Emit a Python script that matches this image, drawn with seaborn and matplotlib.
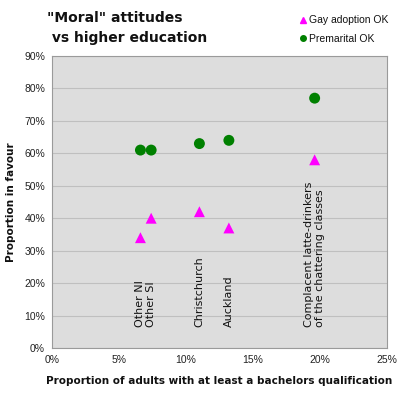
import pandas as pd
import numpy as np
import matplotlib
matplotlib.use("Agg")
import matplotlib.pyplot as plt
import seaborn as sns
from matplotlib.lines import Line2D

regions = ["Other NI", "Other SI", "Christchurch", "Auckland",
           "Complacent latte-drinkers\nof the chattering classes"]
bachelors = [6.6, 7.4, 11.0, 13.2, 19.6]
gay_adoption = [34, 40, 42, 37, 58]
premarital = [61, 61, 63, 64, 77]

df = pd.DataFrame({"region": regions * 2,
                   "bach": bachelors * 2,
                   "val": gay_adoption + premarital,
                   "series": ["Gay adoption OK"] * 5 + ["Premarital OK"] * 5})

sns.set_style("white")
plt.rcParams['font.family'] = ['Liberation Sans', 'DejaVu Sans']
plt.rcParams['text.color'] = "#111111"
plt.rcParams['axes.labelcolor'] = "#111111"
plt.rcParams['xtick.color'] = "#222222"
plt.rcParams['ytick.color'] = "#222222"

fig = plt.figure(figsize=(4, 3.97), dpi=100)
ax = fig.add_axes([0.13, 0.1234, 0.8375, 0.7356])
ax.set_facecolor("#dddddd")

sns.scatterplot(data=df, x="bach", y="val", hue="series", style="series",
                palette={"Gay adoption OK": "#ff00ff", "Premarital OK": "#008000"},
                markers={"Gay adoption OK": "^", "Premarital OK": "o"},
                s=62, edgecolor="none", legend=False, ax=ax, zorder=3)

ax.set_xlim(0, 25)
ax.set_ylim(0, 90)
ax.set_xticks(np.arange(0, 26, 5))
ax.set_xticklabels([f"{v}%" for v in range(0, 26, 5)], fontsize=7.5)
ax.set_yticks(np.arange(0, 91, 10))
ax.set_yticklabels([f"{v}%" for v in range(0, 91, 10)], fontsize=7.5)
ax.yaxis.grid(True, color="#bfbfbf", lw=0.8)
ax.set_axisbelow(True)
ax.tick_params(axis="both", direction="out", length=3, color="#808080", pad=2)
for sp in ax.spines.values():
    sp.set_color("#9a9a9a")
    sp.set_linewidth(0.8)

ax.set_xlabel("Proportion of adults with at least a bachelors qualification",
              fontsize=7.5, fontweight="bold", family="DejaVu Sans", labelpad=8)
ax.set_ylabel("Proportion in favour", fontsize=7.5, fontweight="bold",
              family="DejaVu Sans", labelpad=6)

# region labels, rotated
for name, x in zip(regions, bachelors):
    ax.text(x, 6.5, name, rotation=90, ha="center", va="bottom",
            multialignment="left", fontsize=8, family="DejaVu Sans", zorder=4)

fig.text(0.118, 0.972, "\"Moral\" attitudes\n vs higher education", fontsize=10,
         fontweight="bold", family="DejaVu Sans", va="top", ha="left", linespacing=1.5)

handles = [Line2D([], [], marker="^", color="#ff00ff", ls="none", markersize=5),
           Line2D([], [], marker="o", color="#008000", ls="none", markersize=4)]
fig.legend(handles, ["Gay adoption OK", "Premarital OK"], loc="upper left",
           bbox_to_anchor=(0.72, 0.985), frameon=False, fontsize=7.5,
           handletextpad=0.1, handlelength=1.0, labelspacing=0.8)

fig.savefig("out.png", dpi=100)
